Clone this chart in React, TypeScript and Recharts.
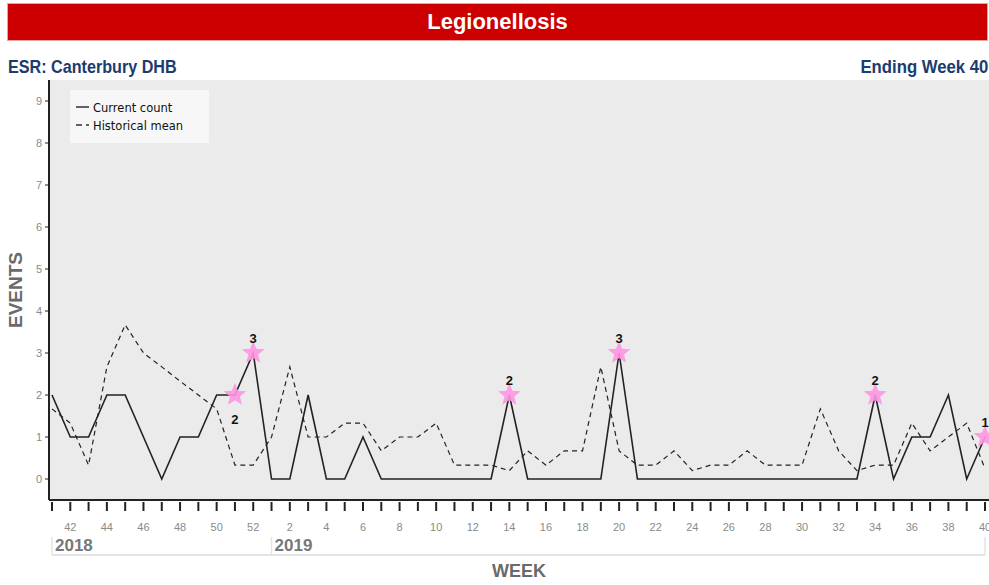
import React from 'react';
import { LineChart, Line, XAxis, YAxis, CartesianGrid, Legend } from 'recharts';

const weeks = ['41','42','43','44','45','46','47','48','49','50','51','52',
  '1','2','3','4','5','6','7','8','9','10','11','12','13','14','15','16','17','18','19','20',
  '21','22','23','24','25','26','27','28','29','30','31','32','33','34','35','36','37','38','39','40'];

const currentCount = [2,1,1,2,2,1,0,1,1,2,2,3,
  0,0,2,0,0,1,0,0,0,0,0,0,0,2,0,0,0,0,0,3,
  0,0,0,0,0,0,0,0,0,0,0,0,0,2,0,1,1,2,0,1];

const historicalMean = [1.67,1.33,0.33,2.67,3.67,3.0,2.67,2.33,2.0,1.67,0.33,0.33,
  1.0,2.67,1.0,1.0,1.33,1.33,0.67,1.0,1.0,1.33,0.33,0.33,0.33,0.2,0.67,0.33,0.67,0.67,2.67,0.67,
  0.33,0.33,0.67,0.2,0.33,0.33,0.67,0.33,0.33,0.33,1.67,0.67,0.2,0.33,0.33,1.33,0.67,1.0,1.33,0.25];

// flagged (starred) week indices, and which labels are drawn below the star
const flaggedIdx = [10, 11, 25, 31, 45, 51];
const labelBelowIdx = [10];

const yearLabels = ['2018', '2019'];
const yearStartIdx = [0, 12];

const yTicks = [0,1,2,3,4,5,6,7,8,9];

const data = weeks.map((w, i) => ({
  idx: i,
  week: w,
  current: currentCount[i],
  mean: historicalMean[i],
}));

const xTicks = data.map(d => d.idx);
const PAD_L = 3;
const PAD_R = 4;

function WeekTick(props: any) {
  const { x, y, payload, width } = props;
  const i = payload.value as number;
  const n = weeks.length;
  const step = ((width || 940) - PAD_L - PAD_R) / (n - 1);
  const w = weeks[i];
  const even = Number(w) % 2 === 0;
  const yi = yearStartIdx.indexOf(i);
  const bandTop = y + 37;
  const bandBottom = y + 55;
  const x0 = i === 0 ? x : x - step / 2;
  const x1 = i === n - 1 ? x : x + step / 2;
  return (
    <g>
      <line x1={x} x2={x} y1={y + 2} y2={y + 11} stroke="#222" strokeWidth={2} />
      {even && (
        <text x={x} y={y + 31} textAnchor="middle" fill="#8a8a8a" fontSize={11} fontFamily="'Liberation Sans', Arial, sans-serif">{w}</text>
      )}
      <line x1={x0} x2={x1} y1={bandBottom} y2={bandBottom} stroke="#e4e4e4" strokeWidth={2} />
      {(yi >= 0 || i === n - 1) && (
        <line x1={x} x2={x} y1={bandTop} y2={bandBottom} stroke="#e4e4e4" strokeWidth={1.5} />
      )}
      {yi >= 0 && (
        <text x={x + 3} y={y + 51} textAnchor="start" fill="#777" fontSize={17} fontWeight="bold" fontFamily="'Liberation Sans', Arial, sans-serif">{yearLabels[yi]}</text>
      )}
    </g>
  );
}

function starPoints(cx: number, cy: number, R: number, r: number) {
  const pts: string[] = [];
  for (let k = 0; k < 10; k++) {
    const rad = k % 2 === 0 ? R : r;
    const a = -Math.PI / 2 + (k * Math.PI) / 5;
    pts.push(`${cx + rad * Math.cos(a)},${cy + rad * Math.sin(a)}`);
  }
  return pts.join(' ');
}

function StarDot(props: any) {
  const { cx, cy, index, payload } = props;
  if (!flaggedIdx.includes(index)) return <g key={`s${index}`} />;
  const below = labelBelowIdx.includes(index);
  return (
    <g key={`s${index}`}>
      <polygon points={starPoints(cx, cy, 12, 5.2)} fill="#ff95e2" fillOpacity={0.9} />
      <text x={cx} y={below ? cy + 29 : cy - 10} textAnchor="middle" fontSize={13} fontWeight="bold" fill="#111" fontFamily="'Liberation Sans', Arial, sans-serif">{payload.current}</text>
    </g>
  );
}

function LegendBox() {
  return (
    <div style={{ width: 139, height: 53, background: '#f7f7f7', position: 'relative', fontFamily: "'DejaVu Sans', Verdana, sans-serif", fontSize: 11.5, color: '#111' }}>
      <svg width={20} height={53} style={{ position: 'absolute', left: 0, top: 0 }}>
        <line x1={6} x2={19} y1={17} y2={17} stroke="#111" strokeWidth={1.3} />
        <line x1={6} x2={12} y1={35} y2={35} stroke="#111" strokeWidth={1.3} />
        <line x1={16} x2={19} y1={35} y2={35} stroke="#111" strokeWidth={1.3} />
      </svg>
      <div style={{ position: 'absolute', left: 23, top: 11, lineHeight: '14px', whiteSpace: 'nowrap' }}>Current count</div>
      <div style={{ position: 'absolute', left: 23, top: 29, lineHeight: '14px', whiteSpace: 'nowrap' }}>Historical mean</div>
    </div>
  );
}

const subStyle: React.CSSProperties = {
  position: 'absolute',
  top: 56,
  fontFamily: "'Liberation Sans Narrow', 'Arial Narrow', 'Liberation Sans', sans-serif",
  fontWeight: 'bold',
  fontSize: 19,
  color: '#1b3c6e',
  lineHeight: '22px',
  whiteSpace: 'nowrap',
};

export default function App() {
  return (
    <div style={{ position: 'absolute', left: 0, top: 0, width: 989, height: 585, background: '#fff', overflow: 'hidden' }}>
      <div style={{ position: 'absolute', left: 0, top: 0 }}>
        <LineChart width={989} height={585} data={data} margin={{ top: 80, right: 0, bottom: 0, left: 0 }}>
          <CartesianGrid horizontal={false} vertical={false} fill="#ebebeb" stroke="none" />
          <XAxis
            dataKey="idx"
            type="number"
            domain={[0, weeks.length - 1]}
            ticks={xTicks}
            interval={0}
            padding={{ left: PAD_L, right: PAD_R }}
            height={85}
            tickSize={0}
            tickMargin={0}
            tickLine={false}
            axisLine={{ stroke: '#222', strokeWidth: 2 }}
            tick={<WeekTick />}
            label={(p: any) => {
              const vb = p.viewBox || {};
              return (
                <text x={vb.x + vb.width / 2} y={vb.y + 77} textAnchor="middle" fill="#6a6a6a" fontSize={18} fontWeight="bold" fontFamily="'Liberation Sans', Arial, sans-serif">WEEK</text>
              );
            }}
          />
          <YAxis
            type="number"
            domain={[-0.5, 9.5]}
            ticks={yTicks}
            interval={0}
            width={49}
            tickSize={4}
            tickMargin={3}
            tickLine={{ stroke: '#222' }}
            axisLine={{ stroke: '#222', strokeWidth: 2 }}
            tick={{ fill: '#8a8a8a', fontSize: 11, fontFamily: "'Liberation Sans', Arial, sans-serif" }}
            label={(p: any) => {
              const vb = p.viewBox || {};
              const cy = vb.y + vb.height / 2;
              return (
                <text x={22} y={cy} transform={`rotate(-90 22 ${cy})`} textAnchor="middle" fill="#6a6a6a" fontSize={19} fontWeight="bold" fontFamily="'Liberation Sans', Arial, sans-serif">EVENTS</text>
              );
            }}
          />
          <Legend
            layout="vertical"
            align="center"
            verticalAlign="middle"
            content={() => <LegendBox />}
            wrapperStyle={{ left: 70, top: 90, width: 139, height: 53 }}
          />
          <Line dataKey="current" stroke="none" dot={<StarDot />} activeDot={false} isAnimationActive={false} legendType="none" />
          <Line dataKey="mean" stroke="#222" strokeWidth={1.2} strokeDasharray="5 4" dot={false} activeDot={false} isAnimationActive={false} />
          <Line dataKey="current" stroke="#222" strokeWidth={1.6} dot={false} activeDot={false} isAnimationActive={false} />
        </LineChart>
      </div>
      <div style={{ position: 'absolute', left: 7, top: 3, width: 981, height: 38, boxSizing: 'border-box', background: '#cc0000', border: '1px solid #e9a0a0', color: '#fff', textAlign: 'center', fontFamily: "'Liberation Sans', Arial, sans-serif", fontWeight: 'bold', fontSize: 22, lineHeight: '36px' }}>Legionellosis</div>
      <div style={{ ...subStyle, left: 8, transform: 'scaleX(0.85)', transformOrigin: 'left center' }}>ESR: Canterbury DHB</div>
      <div style={{ ...subStyle, right: 1, transform: 'scaleX(0.88)', transformOrigin: 'right center' }}>Ending Week 40</div>
    </div>
  );
}
